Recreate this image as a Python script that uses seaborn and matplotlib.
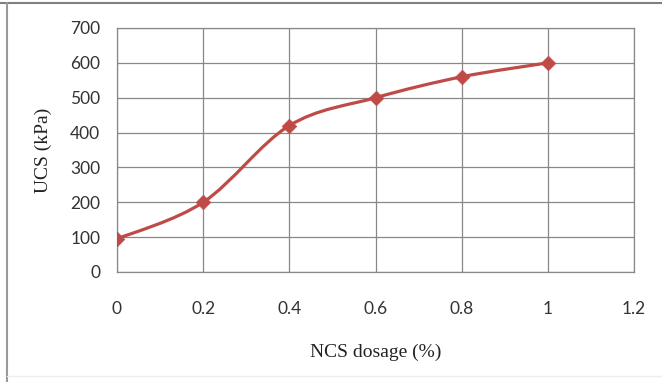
import numpy as np
import pandas as pd
import seaborn as sns
import matplotlib
matplotlib.use("Agg")
import matplotlib.pyplot as plt
from matplotlib.path import Path
from matplotlib.patches import PathPatch
from matplotlib.lines import Line2D

# данные
dosage = [0, 0.2, 0.4, 0.6, 0.8, 1.0]
ucs = [95, 200, 420, 500, 560, 600]
x_ticks = [0, 0.2, 0.4, 0.6, 0.8, 1, 1.2]
y_ticks = [0, 100, 200, 300, 400, 500, 600, 700]

red = '#BE4B48'
grid_c = '#888888'

sns.set_style("white")
plt.rcParams['font.family'] = ['Lato', 'DejaVu Sans']

df = pd.DataFrame({'dosage': dosage, 'ucs': ucs})

fig = plt.figure(figsize=(6.62, 3.82), dpi=100)
ax = fig.add_axes([117/662, 1 - 272/382, (634 - 117)/662, (272 - 28)/382])

# сглаженная линия как в Excel (кривые Безье через точки)
pts = df[['dosage', 'ucs']].to_numpy(dtype=float)
n = len(pts)
verts = [pts[0]]
codes = [Path.MOVETO]
for i in range(n - 1):
    p_prev = pts[max(i - 1, 0)]
    p0 = pts[i]
    p1 = pts[i + 1]
    p_next = pts[min(i + 2, n - 1)]
    c1 = p0 + (p1 - p_prev) / 6
    c2 = p1 - (p_next - p0) / 6
    verts += [c1, c2, p1]
    codes += [Path.CURVE4] * 3
ax.add_patch(PathPatch(Path(verts, codes), facecolor='none', edgecolor=red,
                       lw=2.3, zorder=3, capstyle='round'))

sns.scatterplot(data=df, x='dosage', y='ucs', marker='D', s=55, color=red,
                edgecolor=red, linewidth=0.5, zorder=4, ax=ax, legend=False)

ax.set_xlim(0, 1.2)
ax.set_ylim(0, 700)
ax.set_xticks(x_ticks)
ax.set_xticklabels(['0', '0.2', '0.4', '0.6', '0.8', '1', '1.2'])
ax.set_yticks(y_ticks)
ax.grid(True, color=grid_c, lw=0.9)
ax.set_axisbelow(True)
for sp in ax.spines.values():
    sp.set_color(grid_c)
    sp.set_linewidth(0.9)
ax.tick_params(axis='x', length=0, pad=21, labelsize=12.5, colors='#333333')
ax.tick_params(axis='y', length=0, pad=12, labelsize=12.5, colors='#333333')

ax.set_xlabel('NCS dosage (%)', family=['Liberation Serif'], fontsize=14,
              color='#222222', labelpad=19)
ax.set_ylabel('UCS (kPa)', family=['Liberation Serif'], fontsize=14,
              color='#222222', labelpad=13)

# рамка вокруг рисунка
fig.add_artist(Line2D([0, 1], [1 - 3/382, 1 - 3/382], transform=fig.transFigure,
                      color='#7F7F7F', lw=1.5))
fig.add_artist(Line2D([7/662, 7/662], [0, 1 - 3/382], transform=fig.transFigure,
                      color='#9A9A9A', lw=1.5))
fig.add_artist(Line2D([7/662, 1], [1 - 376/382, 1 - 376/382], transform=fig.transFigure,
                      color='#EEEEEE', lw=1))

fig.savefig('out.png', dpi=100)
